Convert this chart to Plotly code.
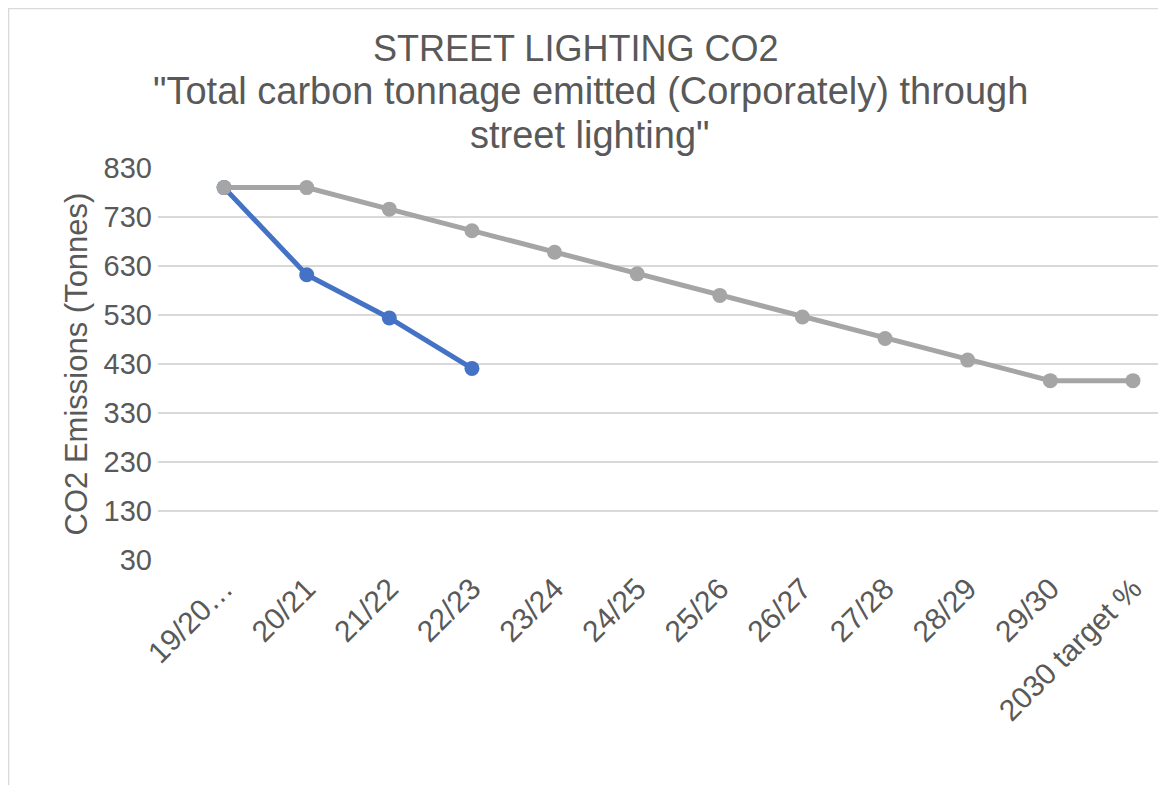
import plotly.graph_objects as go

# categories and series
years = ["19/20…", "20/21", "21/22", "22/23", "23/24", "24/25", "25/26",
         "26/27", "27/28", "28/29", "29/30", "2030 target %"]
actual = [790, 612, 524, 421]
target = [790, 790, 746, 702, 658, 614, 570, 526, 482, 438, 396, 396]
y_ticks = [30, 130, 230, 330, 430, 530, 630, 730, 830]
title_lines = [
    "STREET LIGHTING CO2",
    "\"Total carbon tonnage emitted (Corporately) through",
    "street lighting\"",
]

BLUE = "#4472C4"
GREY = "#A5A5A5"
TEXT = "#595959"
FONT = "Liberation Sans, Arial, sans-serif"

fig = go.Figure()
fig.add_trace(go.Scatter(
    x=years[:len(actual)], y=actual, name="Actual", mode="lines+markers",
    line=dict(color=BLUE, width=5), marker=dict(size=15, color=BLUE),
))
fig.add_trace(go.Scatter(
    x=years, y=target, name="Target", mode="lines+markers",
    line=dict(color=GREY, width=5), marker=dict(size=15, color=GREY),
))

# title drawn line by line so the line spacing matches the original
for text, xpos, ypos, size in zip(title_lines, [0.4137, 0.4286, 0.4286],
                                  [1.306, 1.196, 1.084], [36, 38, 38]):
    fig.add_annotation(
        text=text, xref="paper", yref="paper", x=xpos, y=ypos,
        xanchor="center", yanchor="middle", showarrow=False,
        font=dict(size=size, color=TEXT, family=FONT),
    )

fig.update_layout(
    width=1166, height=785,
    paper_bgcolor="white", plot_bgcolor="white",
    font=dict(family=FONT, color=TEXT),
    showlegend=False,
    margin=dict(l=150, r=8, t=160, b=233),
    xaxis=dict(
        type="category", range=[-0.8, 11.4], tickangle=-45,
        showgrid=False, showline=False, ticks="", ticklabelstandoff=4,
        tickfont=dict(size=30, color=TEXT),
    ),
    yaxis=dict(
        range=[30, 830], tickvals=y_ticks, showline=False, ticks="",
        gridcolor="#D9D9D9", gridwidth=1.5, zeroline=False, ticklabelstandoff=5,
        tickfont=dict(size=29, color=TEXT),
        title=dict(text="CO2 Emissions (Tonnes)", font=dict(size=31, color=TEXT), standoff=6),
    ),
    shapes=[dict(
        type="rect", xref="paper", yref="paper",
        x0=-0.1483, x1=1.02, y0=-0.65, y1=1.407,
        line=dict(color="#D9D9D9", width=1.5), fillcolor="rgba(0,0,0,0)", layer="below",
    )],
)

fig.write_html("out.html")
